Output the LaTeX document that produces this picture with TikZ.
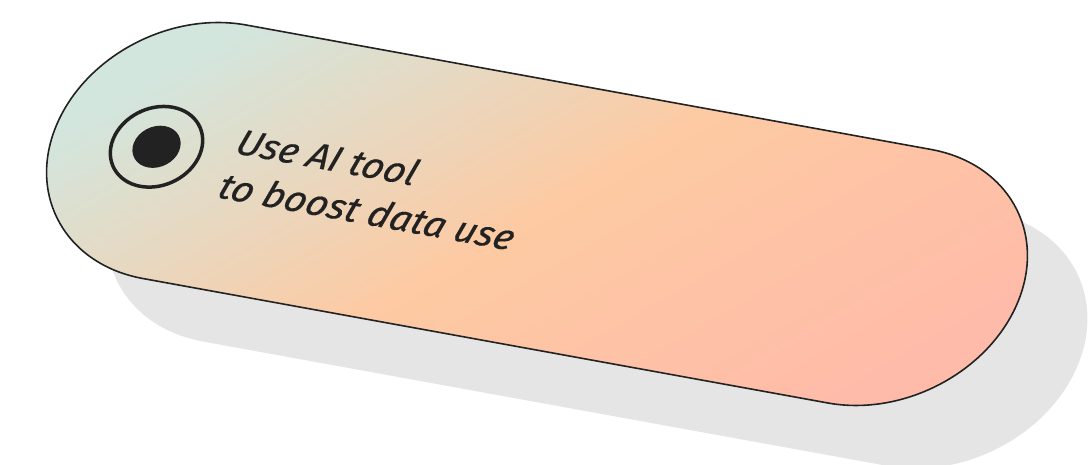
\documentclass[tikz,border=0pt]{standalone}
\usepackage{fontspec}
\setmainfont{Fira Sans}
\newfontfamily\capfont{Fira Sans}[ItalicFeatures={FakeBold=0.5}]
\usepackage{xcolor}
\usetikzlibrary{positioning}
\definecolor{mint}{HTML}{D2E6DE}
\definecolor{peach}{HTML}{FDCAA3}
\definecolor{salmon}{HTML}{FFBBA9}
\definecolor{shadowgrey}{HTML}{E5E5E5}
\definecolor{ink}{HTML}{222222}
\tikzstyle{pill} = [draw=ink, line width=1.6pt, top color=mint, bottom color=salmon, middle color=peach, shading angle=30]
\tikzstyle{pillshadow} = [fill=shadowgrey]
\tikzstyle{ring} = [circle, draw=ink, line width=3.5pt, minimum size=88pt, inner sep=0pt]
\tikzstyle{dot} = [circle, fill=ink, minimum size=46pt, inner sep=0pt]
\tikzstyle{caption} = [font=\fontsize{38}{44}\selectfont\capfont\itshape, text=ink, inner sep=0pt, anchor=base west]

\begin{document}
\begin{tikzpicture}[x=1pt, y=1pt]
    \clip (0,0) rectangle (1089,465);
    % shadow
    \begin{scope}[shift={(597,188)}, rotate=-10.3, xslant=0.21, yscale=0.95]
        \path [pillshadow] (-348,141) -- (348,141) arc[start angle=90, end angle=-90, radius=141]
            -- (-348,-141) arc[start angle=270, end angle=90, radius=141] -- cycle;
    \end{scope}
    % pill, icon and text
    \begin{scope}[shift={(537,251)}, rotate=-10.3, xslant=0.21, yscale=0.95, transform shape]
        \path [pill] (-348,141) -- (348,141) arc[start angle=90, end angle=-90, radius=141]
            -- (-348,-141) arc[start angle=270, end angle=90, radius=141] -- cycle;
        \node [ring] (ring) at (-386,-2) {};
        \node [dot] (dot) at (ring) {};
        \node [caption] (use) at (-311,6) {Use AI tool};
        \node [caption] (boost) at (-311,-43) {to boost data use};
    \end{scope}
\end{tikzpicture}
\end{document}
